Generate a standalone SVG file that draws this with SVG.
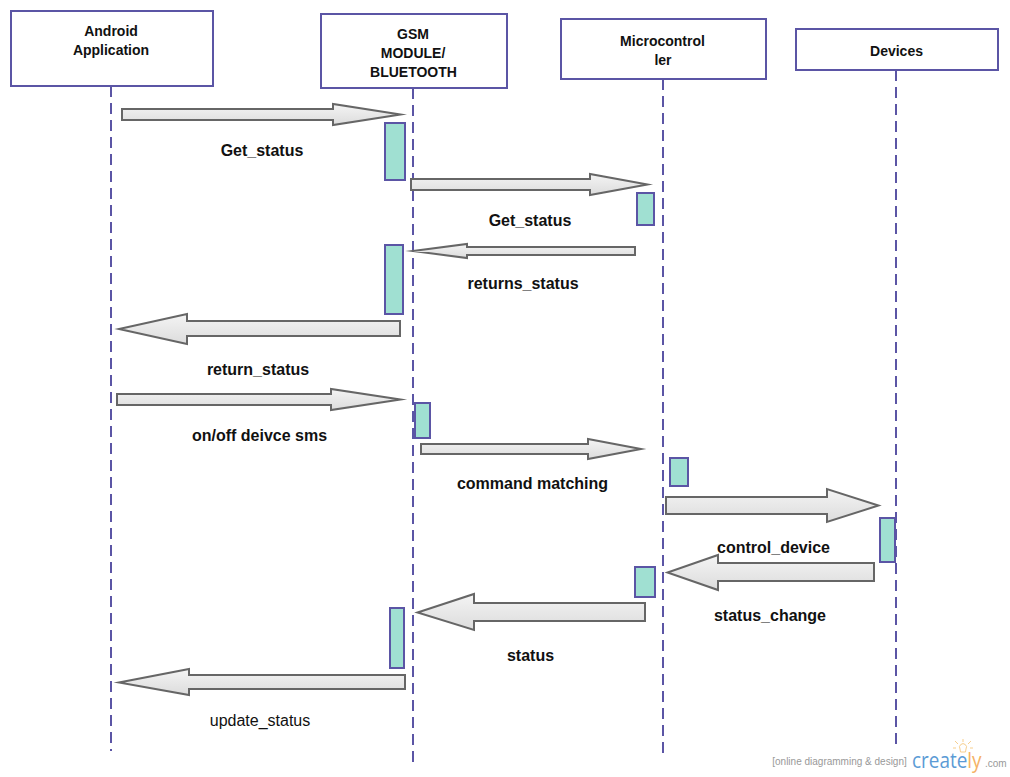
<svg xmlns="http://www.w3.org/2000/svg" width="1010" height="777" viewBox="0 0 1010 777">
<style>
.box{fill:#fff;stroke:#5b55a5;stroke-width:2}
.life{fill:none;stroke:#5b55a5;stroke-width:2;stroke-dasharray:11 6}
.act{fill:#a0e0d2;stroke:#5b55a5;stroke-width:2}
.arr{fill:url(#g);stroke:#666;stroke-width:2;stroke-miterlimit:10}
text{font-family:"Liberation Sans",Arial,sans-serif;fill:#111;text-anchor:middle}
.h{font-size:14px;font-weight:bold}
.l{font-size:16px;font-weight:bold}
.logo{text-anchor:start;font-family:"Open Sans","Liberation Sans",sans-serif;font-size:22px}
</style>
<defs><linearGradient id="g" x1="0" y1="0" x2="0" y2="1"><stop offset="0" stop-color="#f4f4f4"/><stop offset="1" stop-color="#dcdcdc"/></linearGradient></defs>
<rect width="1010" height="777" fill="#fff"/>
<g id="lifelines">
<path class="life" d="M111 86V751"/>
<path class="life" d="M413 88V763"/>
<path class="life" d="M663 79V753"/>
<path class="life" d="M896 70V744"/>
</g>
<g id="n-android"><rect class="box" x="11" y="11" width="202" height="75"/><text class="h" x="111" y="36">Android</text><text class="h" x="111" y="55">Application</text></g>
<g id="n-gsm"><rect class="box" x="321" y="14" width="186" height="74"/><text class="h" x="413" y="39">GSM</text><text class="h" x="413" y="58">MODULE/</text><text class="h" x="413.500" y="77">BLUETOOTH</text></g>
<g id="n-micro"><rect class="box" x="561" y="19" width="205" height="60"/><text class="h" x="662.500" y="46">Microcontrol</text><text class="h" x="663" y="65">ler</text></g>
<g id="n-devices"><rect class="box" x="796" y="29" width="202" height="41"/><text class="h" x="896.500" y="56">Devices</text></g>
<g id="activations">
<rect class="act" x="385" y="123" width="20" height="57"/>
<rect class="act" x="637" y="193" width="17" height="32"/>
<rect class="act" x="385" y="245" width="18" height="69"/>
<rect class="act" x="415" y="403" width="15" height="35"/>
<rect class="act" x="670" y="458" width="18" height="28"/>
<rect class="act" x="880" y="518" width="15" height="44"/>
<rect class="act" x="635" y="567" width="20" height="30"/>
<rect class="act" x="390" y="608" width="14" height="60"/>
</g>
<g id="connectors">
<polygon class="arr" points="122,109 333,109 333,104 400.500,114.500 333,125 333,120 122,120"/>
<polygon class="arr" points="411,179 590,179 590,174 647.500,184.500 590,195 590,190 411,190"/>
<polygon class="arr" points="635,247 467,247 467,244 413,251 467,258 467,255 635,255"/>
<polygon class="arr" points="400,321 187,321 187,314 119,329 187,344 187,336 400,336"/>
<polygon class="arr" points="117,394 331,394 331,389 400.500,399.500 331,410 331,405 117,405"/>
<polygon class="arr" points="421,444 588,444 588,439 641,449 588,459 588,454 421,454"/>
<polygon class="arr" points="666,497 827,497 827,489 878.500,505.500 827,522 827,514 666,514"/>
<polygon class="arr" points="874,563 718,563 718,555 667.500,572.500 718,590 718,581 874,581"/>
<polygon class="arr" points="645,603 474,603 474,594 417.500,612.500 474,630 474,621 645,621"/>
<polygon class="arr" points="405,675 189,675 189,669 119,682.500 189,695 189,689 405,689"/>
</g>
<g id="labels">
<text class="l" x="262" y="156">Get_status</text>
<text class="l" x="530" y="226">Get_status</text>
<text class="l" x="523" y="289">returns_status</text>
<text class="l" x="258" y="375">return_status</text>
<text class="l" x="259.500" y="441">on/off deivce sms</text>
<text class="l" x="532.500" y="489">command matching</text>
<text class="l" x="773.500" y="553">control_device</text>
<text class="l" x="770" y="621">status_change</text>
<text class="l" x="530.500" y="661">status</text>
<text x="260" y="726" font-size="16">update_status</text>
</g>
<g id="watermark">
<text x="839.500" y="765" font-size="10" style="fill:#999">[online diagramming &amp; design]</text>
<text class="logo" transform="translate(912 768) scale(.86 1)" style="fill:#5b9bd5">create<tspan style="fill:#f5b266">ly</tspan></text>
<text x="985" y="767" font-size="10" style="fill:#999;text-anchor:start">.com</text>
<g fill="#fff" stroke="#f7cf8e" stroke-width="1"><path d="M960.500 752L960 749A3.500 3.500 0 1 1 966 749L965.500 752Z"/><path fill="none" d="M963 739V742M955 741L958 744M971 741L968 744M953 748H956M970 748H973"/></g>
</g>
</svg>
